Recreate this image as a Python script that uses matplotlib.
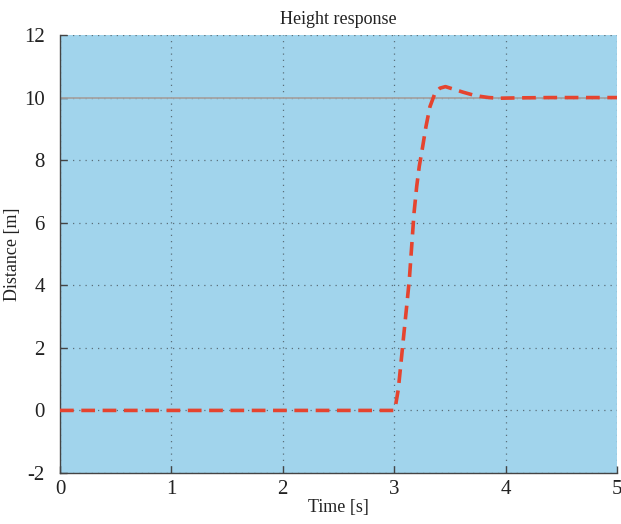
import numpy as np
import matplotlib
matplotlib.use('Agg')
import matplotlib.pyplot as plt

plt.rcParams['font.family'] = ['Liberation Serif', 'DejaVu Serif']
plt.rcParams['axes.unicode_minus'] = False

# Step response of the height controller (sampled from the simulation run)
time = [0.0, 3.0, 3.007, 3.037, 3.067, 3.088, 3.112, 3.136, 3.157, 3.178,
        3.202, 3.225, 3.256, 3.285, 3.321, 3.366, 3.41, 3.46, 3.531,
        3.62, 3.70, 3.77, 3.85, 3.95, 4.1, 4.4, 5.0]
height = [0.0, 0.0, 0.05, 0.68, 1.74, 2.49, 3.33, 4.19, 5.25, 6.31,
          7.16, 7.80, 8.44, 9.07, 9.71, 10.14, 10.30, 10.35, 10.27,
          10.17, 10.09, 10.04, 10.0, 9.98, 9.99, 10.0, 10.0]
reference = 10.0

xticks = [0, 1, 2, 3, 4, 5]
yticks = [-2, 0, 2, 4, 6, 8, 10, 12]

fig = plt.figure(figsize=(6.21, 5.24), dpi=100)
ax = fig.add_axes([60/621, 51/524, 557/621, 438/524])
ax.set_facecolor('#a1d4ec')

ax.axhline(reference, color='#a3a3a3', lw=1.3, zorder=2)
ax.plot(time, height, color='#e5442f', lw=2.6, dashes=(3.8, 2.1),
        solid_capstyle='butt', dash_capstyle='butt', zorder=3)

ax.set_xlim(0, 5)
ax.set_ylim(-2, 12)
ax.set_xticks(xticks)
ax.set_yticks(yticks)
ax.grid(True, linestyle=(0, (1, 4)), color='#5a6f7a', lw=0.9)
ax.set_axisbelow(True)

for s in ['top', 'right']:
    ax.spines[s].set_visible(False)
for s in ['left', 'bottom']:
    ax.spines[s].set_color('#444444')
    ax.spines[s].set_linewidth(1.0)

ax.tick_params(direction='in', length=5, width=1, colors='#444444',
               labelcolor='#222222', labelsize=15)
ax.tick_params(axis='x', pad=5)
ax.tick_params(axis='y', pad=11)

ax.set_title('Height response', fontsize=13, color='#222222', pad=8)
ax.set_xlabel('Time [s]', fontsize=13, color='#222222', labelpad=0)
ax.set_ylabel('Distance [m]', fontsize=13, color='#222222', labelpad=2)

fig.savefig('out.png', dpi=100)
